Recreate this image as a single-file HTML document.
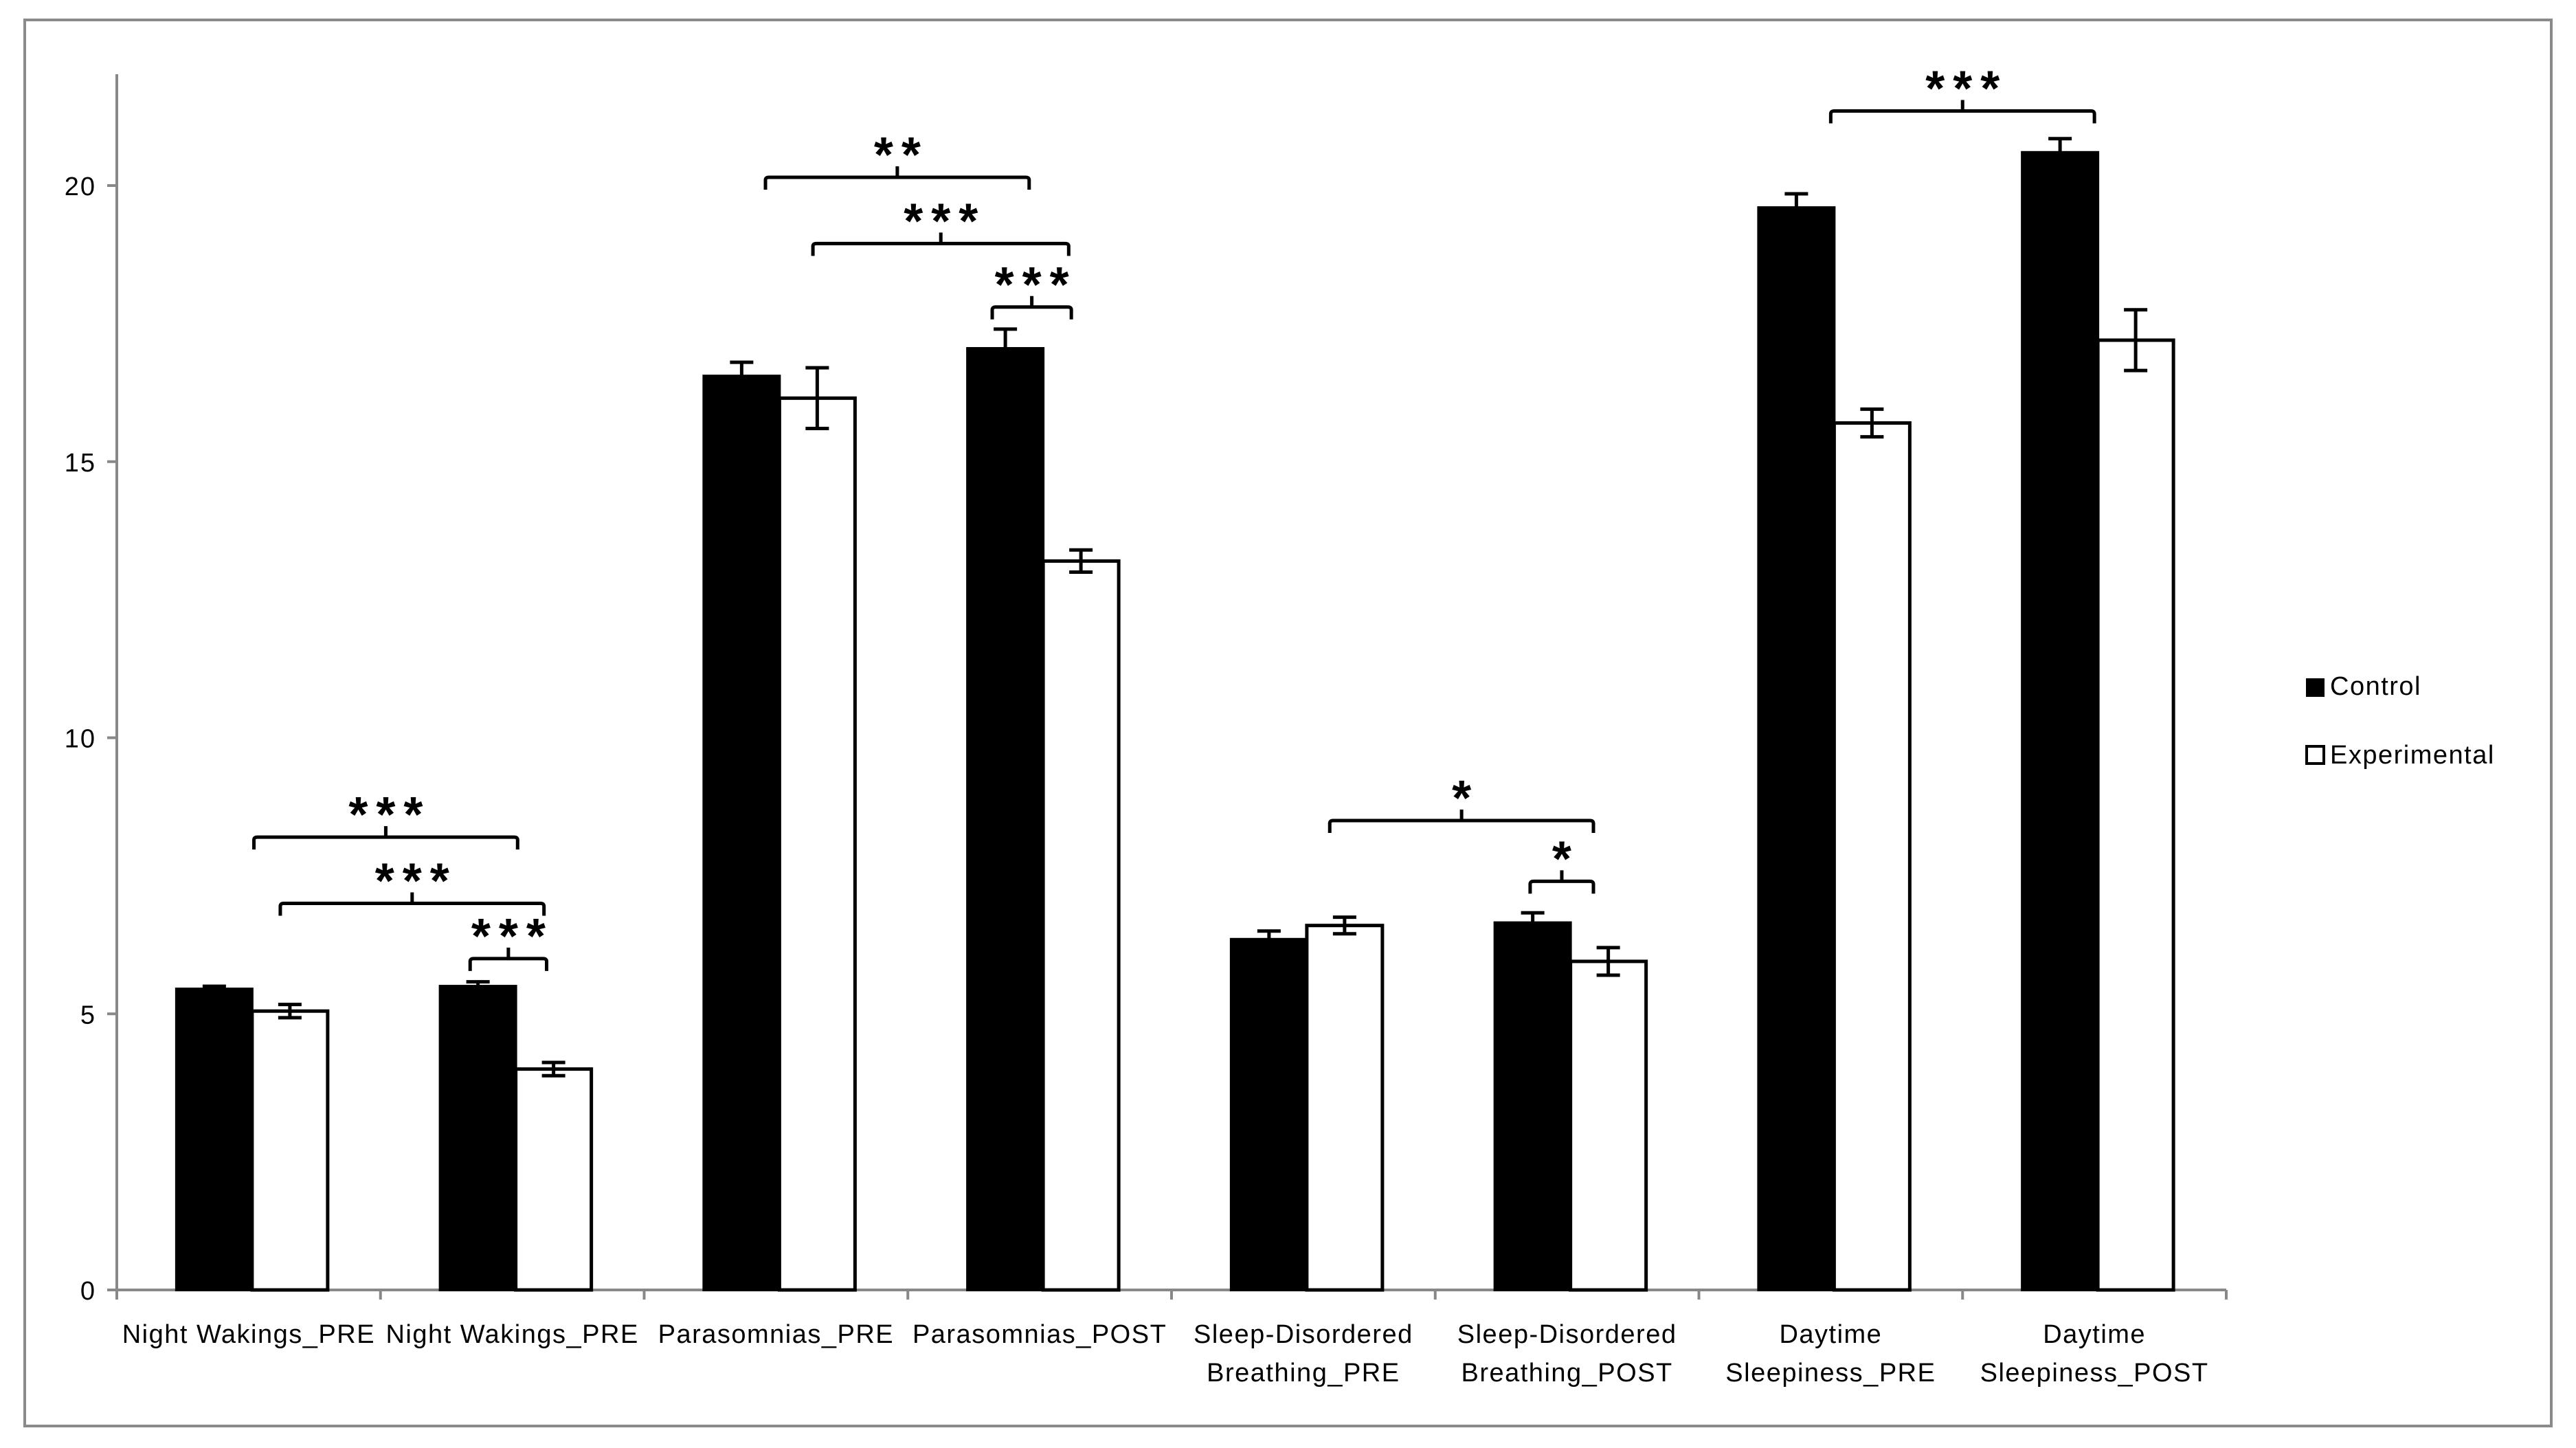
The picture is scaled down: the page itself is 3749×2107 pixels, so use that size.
<!DOCTYPE html>
<html><head><meta charset="utf-8"><style>
html,body{margin:0;padding:0;background:#fff}
svg{display:block}
text{font-family:"Liberation Sans",sans-serif;fill:#000}
</style></head><body>
<svg id="chart" width="3749" height="2107" viewBox="0 0 3749 2107" xmlns="http://www.w3.org/2000/svg">
<rect x="36" y="29" width="3677" height="2046" fill="#fff" stroke="#8a8a8a" stroke-width="4"/>
<g id="plot"></g>
</svg>
<script>
const categories = [["Night Wakings_PRE"],["Night Wakings_PRE"],["Parasomnias_PRE"],["Parasomnias_POST"],["Sleep-Disordered","Breathing_PRE"],["Sleep-Disordered","Breathing_POST"],["Daytime","Sleepiness_PRE"],["Daytime","Sleepiness_POST"]];
const controlValues = [5.45, 5.5, 16.55, 17.05, 6.35, 6.65, 19.6, 20.6];
const controlErrors = [0.05, 0.08, 0.25, 0.35, 0.15, 0.18, 0.25, 0.25];
const experimentalValues = [5.05, 4.0, 16.15, 13.2, 6.6, 5.95, 15.7, 17.2];
const experimentalErrors = [0.12, 0.12, 0.55, 0.2, 0.15, 0.25, 0.25, 0.55];
const yTicks = [0, 5, 10, 15, 20];
const bracketStarts = [0.52, 0.62, 1.34, 2.46, 2.64, 3.32, 4.6, 5.36, 6.5];
const bracketEnds = [1.52, 1.62, 1.63, 3.46, 3.61, 3.62, 5.6, 5.6, 7.5];
const bracketLevels = [8.2, 7.0, 6.0, 20.15, 18.95, 17.8, 8.5, 7.4, 21.35];
const bracketLabels = ["***","***","***","**","***","***","*","*","***"];

const NS = "http://www.w3.org/2000/svg";
const g = document.getElementById("plot");
const X0 = 170, X1 = 3240, Y0 = 1877, PER = 80.35;
const catW = (X1 - X0) / categories.length, barW = 110;
const yScale = v => Y0 - v * PER;
const xCat = c => X0 + c * catW;
function el(tag, attrs, parent) {
  const e = document.createElementNS(NS, tag);
  for (const k in attrs) e.setAttribute(k, attrs[k]);
  (parent || g).appendChild(e);
  return e;
}
let a = el("line", {x1: X0, y1: 108, x2: X0, y2: Y0, stroke: "#888", "stroke-width": 4});


a = el("line", {x1: X0, y1: Y0, x2: X1, y2: Y0, stroke: "#888", "stroke-width": 4});


yTicks.forEach(t => {
  const tk = el("line", {x1: X0 - 14, y1: yScale(t), x2: X0, y2: yScale(t), stroke: "#888", "stroke-width": 4});
  
  
  const tx = el("text", {x: 140, y: yScale(t) + 14, "text-anchor": "end", "font-size": 38, "letter-spacing": 2});
  tx.textContent = t;
  
  
});
for (let i = 0; i <= categories.length; i++) {
  const tk = el("line", {x1: xCat(i), y1: Y0, x2: xCat(i), y2: Y0 + 14, stroke: "#888", "stroke-width": 4});
  
  
}
categories.forEach((lines, i) => {
  const cx = xCat(i + 0.5);
  lines.forEach((ln, j) => {
    const tx = el("text", {x: cx, y: 1954 + j * 56, "text-anchor": "middle", "font-size": 38, "letter-spacing": 1.5});
    tx.textContent = ln;
    
    
  });
});
function errBar(cx, v, e) {
  const gg = el("g", {stroke: "#000", "stroke-width": 5});
  
  
  el("line", {x1: cx, y1: yScale(v + e), x2: cx, y2: yScale(v - e)}, gg);
  el("line", {x1: cx - 17, y1: yScale(v + e), x2: cx + 17, y2: yScale(v + e)}, gg);
  el("line", {x1: cx - 17, y1: yScale(v - e), x2: cx + 17, y2: yScale(v - e)}, gg);
}
categories.forEach((c, i) => {
  const cx = xCat(i + 0.5) + 5;
  const vC = controlValues[i], vE = experimentalValues[i];
  const b1 = el("rect", {x: cx - barW, y: yScale(vC), width: barW, height: Y0 - yScale(vC), fill: "#000", stroke: "#000", "stroke-width": 4});
  
  
  const b2 = el("rect", {x: cx, y: yScale(vE), width: barW, height: Y0 - yScale(vE), fill: "#fff", stroke: "#000", "stroke-width": 5});
  
  
  errBar(cx - barW / 2, vC, controlErrors[i]);
  errBar(cx + barW / 2, vE, experimentalErrors[i]);
});
bracketStarts.forEach((s, i) => {
  const xa = xCat(bracketStarts[i]), xb = xCat(bracketEnds[i]), y = yScale(bracketLevels[i]);
  const xm = (xa + xb) / 2;
  const p = el("path", {d: `M${xa},${y + 18} L${xa},${y + 4} Q${xa},${y} ${xa + 5},${y} L${xb - 5},${y} Q${xb},${y} ${xb},${y + 4} L${xb},${y + 18} M${xm},${y} L${xm},${y - 16}`, fill: "none", stroke: "#000", "stroke-width": 5});
  
  
  const t = el("text", {x: xm + 6, y: y - 8, "text-anchor": "middle", "font-size": 72, "font-weight": "bold", "letter-spacing": 12});
  t.textContent = bracketLabels[i];
  
  
});
const lg = el("g", {});


let s = el("rect", {x: 3356, y: 987, width: 27, height: 27, fill: "#000"}, lg);


let t = el("text", {x: 3391, y: 1011, "font-size": 38, "letter-spacing": 1.5}, lg);
t.textContent = "Control";


s = el("rect", {x: 3357, y: 1086, width: 25, height: 25, fill: "#fff", stroke: "#000", "stroke-width": 4}, lg);


t = el("text", {x: 3391, y: 1111, "font-size": 38, "letter-spacing": 1.5}, lg);
t.textContent = "Experimental";


</script>
</body></html>
